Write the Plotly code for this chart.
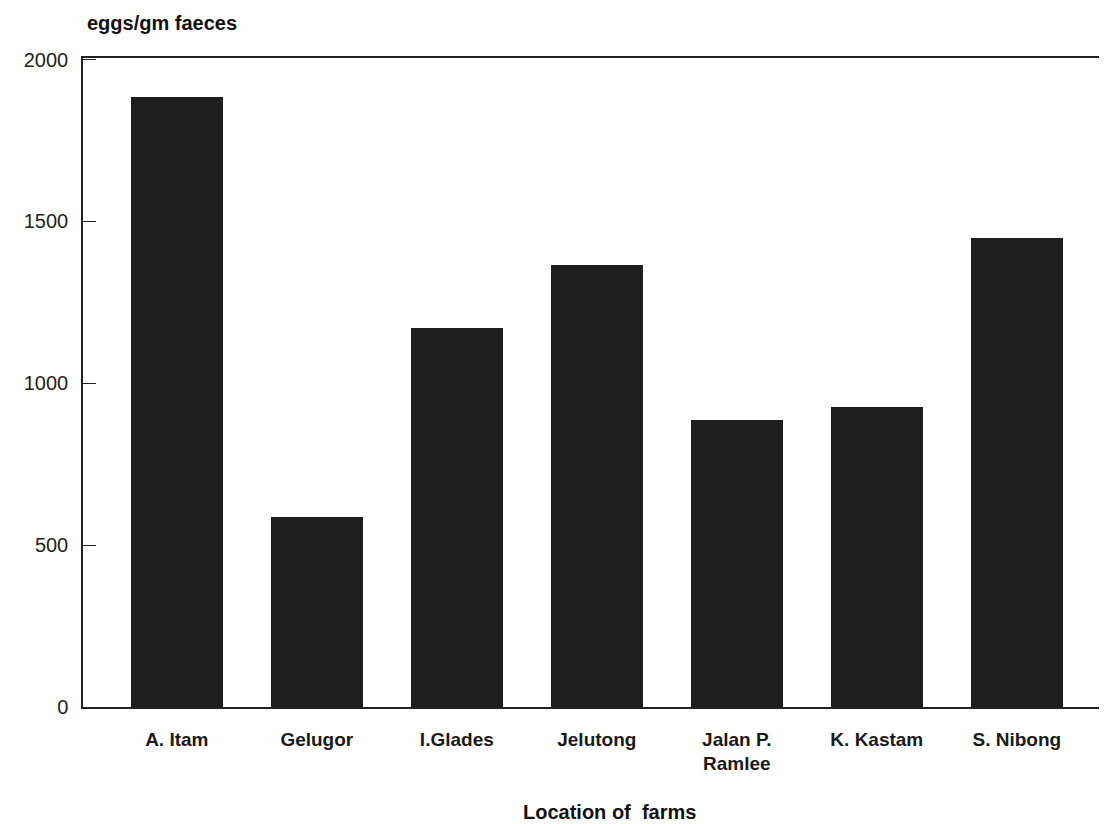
import plotly.graph_objects as go

farms = ["A. Itam", "Gelugor", "I.Glades", "Jelutong", "Jalan P.<br>Ramlee", "K. Kastam", "S. Nibong"]
eggs = [1883, 588, 1170, 1367, 886, 926, 1448]
y_ticks = [0, 500, 1000, 1500, 2000]

FONT = "Liberation Sans, Arial, sans-serif"

fig = go.Figure()
fig.add_trace(go.Bar(
    x=list(range(len(farms))), y=eggs,
    width=0.66,
    marker=dict(color="#1e1e1e", line=dict(width=0)),
))

fig.update_layout(
    width=1099, height=816,
    margin=dict(l=75, r=2, t=50, b=117, autoexpand=False),
    paper_bgcolor="white", plot_bgcolor="white",
    showlegend=False,
    font=dict(family=FONT, color="#111"),
    bargap=0,
)
fig.update_xaxes(
    range=[-0.67, 6.63],
    tickmode="array", tickvals=list(range(len(farms))), ticktext=["<b>%s</b>" % f for f in farms],
    showline=True, linecolor="#222", linewidth=1.5, mirror=True,
    ticks="", showgrid=False, zeroline=False,
    tickfont=dict(size=19, family=FONT, color="#1a1a1a"),
    ticklabelstandoff=14,
)
fig.update_yaxes(
    range=[0, 2005],
    tickmode="array", tickvals=y_ticks, ticktext=[str(v) for v in y_ticks],
    showline=True, linecolor="#222", linewidth=1.5, mirror=True,
    ticks="inside", ticklen=13, tickwidth=1.2, tickcolor="#222",
    showgrid=False, zeroline=False,
    tickfont=dict(size=20, color="#222"),
    ticklabelstandoff=9,
)
fig.add_annotation(
    text="<b>eggs/gm faeces</b>", xref="paper", yref="paper",
    x=0.0, y=1.0, xanchor="left", yanchor="bottom", yshift=22, xshift=2,
    showarrow=False, font=dict(size=20, color="#111"),
)
fig.add_annotation(
    text="<b>Location of  farms</b>", xref="paper", yref="paper",
    x=0.515, y=0, xanchor="center", yanchor="top", yshift=-92,
    showarrow=False, font=dict(size=20, color="#111"),
)

fig.write_html("out.html")
